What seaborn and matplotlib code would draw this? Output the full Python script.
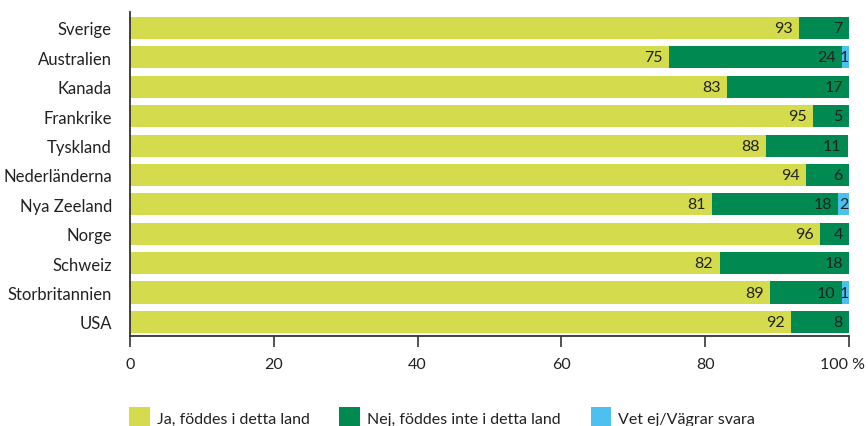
import matplotlib
matplotlib.use("Agg")
import matplotlib.pyplot as plt
from matplotlib.patches import Patch
from matplotlib.transforms import ScaledTranslation
import seaborn as sns
import pandas as pd

countries = ["Sverige", "Australien", "Kanada", "Frankrike", "Tyskland", "Nederländerna",
             "Nya Zeeland", "Norge", "Schweiz", "Storbritannien", "USA"]
ja = [93, 75, 83, 95, 88.4, 94, 81, 96, 82, 89, 92]
nej = [7, 24, 17, 5, 11.45, 6, 17.5, 4, 18, 10, 8]
vet = [0, 1, 0, 0, 0, 0, 1.5, 0, 0, 1, 0]
series_names = ["Ja, föddes i detta land", "Nej, föddes inte i detta land", "Vet ej/Vägrar svara"]
x_ticks = [0, 20, 40, 60, 80, 100]
x_tick_labels = ["0", "20", "40", "60", "80", "100 %"]

colors = ["#d4dc4e", "#008a52", "#4cc1ef"]
txt = "#222222"

sns.set_theme(style="white")
plt.rcParams["font.family"] = ["Lato", "DejaVu Sans"]

df = pd.DataFrame({"country": countries, "ja": ja, "nej": nej, "vet": vet})
df["c1"] = df["ja"]
df["c2"] = df["ja"] + df["nej"]
df["c3"] = df["c2"] + df["vet"]

fig = plt.figure(figsize=(8.68, 4.27), dpi=100)
ax = fig.add_axes([130 / 868, 90 / 427, 719 / 868, 324 / 427])

for col, c in zip(["c3", "c2", "c1"], colors[::-1]):
    sns.barplot(data=df, x=col, y="country", color=c, width=0.75, orient="h",
                saturation=1, ax=ax, linewidth=0)

for i, row in df.iterrows():
    starts = [0, row["c1"], row["c2"]]
    for val, start in zip([row["ja"], row["nej"], row["vet"]], starts):
        if val <= 0:
            continue
        pad = -4.5 if val >= 3 else -0.3
        ax.annotate(f"{val:.0f}", xy=(start + val, i), xytext=(pad, 0),
                    textcoords="offset points", ha="right", va="center",
                    fontsize=11.5, color=txt)

ax.set_xlim(0, 100)
ax.set_ylim(10.48, -0.544)
ax.set_xlabel("")
ax.set_ylabel("")
ax.set_xticks(x_ticks)
ax.set_xticklabels(x_tick_labels)
for s in ["top", "right"]:
    ax.spines[s].set_visible(False)
for s in ["left", "bottom"]:
    ax.spines[s].set_color("#333333")
    ax.spines[s].set_linewidth(1.3)
ax.tick_params(axis="x", bottom=True, length=8, width=1.2, color="#333333",
               labelsize=11.5, labelcolor=txt, pad=7)
ax.tick_params(axis="y", left=False, labelsize=12, labelcolor=txt, pad=7)
last = ax.get_xticklabels()[-1]
last.set_transform(last.get_transform() + ScaledTranslation(-7 / 100, 0, fig.dpi_scale_trans))

handles = [Patch(facecolor=c, edgecolor="none") for c in colors]
fig.legend(handles, series_names, loc="center left", bbox_to_anchor=(129 / 868, 8 / 427),
           ncol=3, frameon=False, fontsize=11.5, handlelength=1.3, handleheight=1.8,
           handletextpad=0.45, columnspacing=1.85, labelcolor=txt, borderpad=0,
           borderaxespad=0)

fig.savefig("out.png", dpi=100)
